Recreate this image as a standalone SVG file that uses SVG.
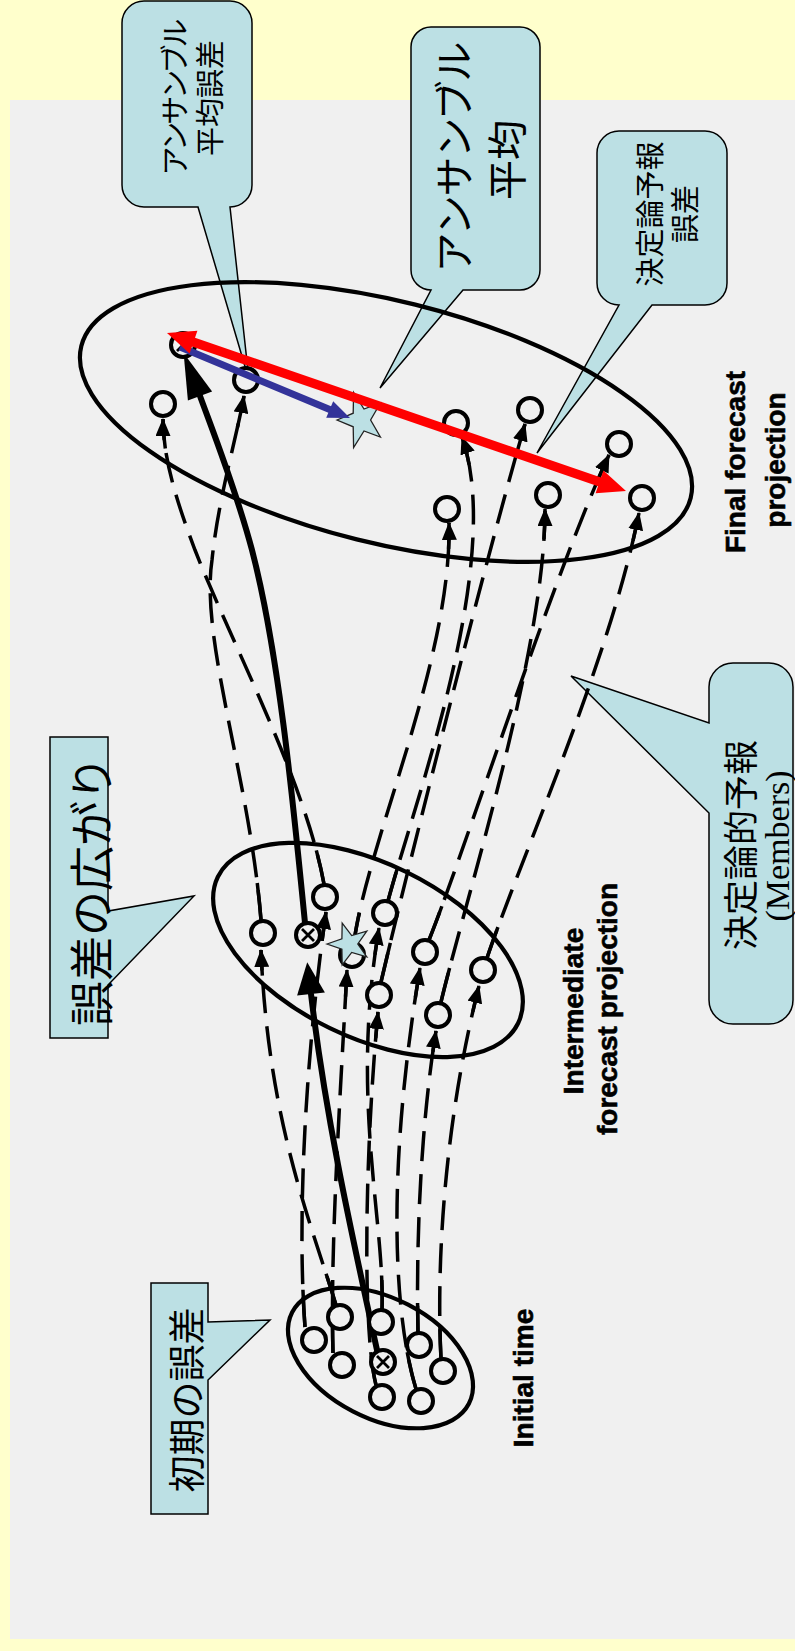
<svg xmlns="http://www.w3.org/2000/svg" width="795" height="1651" viewBox="0 0 795 1651">
<style>
.co{fill:#BCE0E4;stroke:#000;stroke-width:1.5;stroke-linejoin:miter}
.jp{font-family:"Noto Sans CJK JP","Noto Sans CJK SC",sans-serif;fill:#000;text-anchor:middle;dominant-baseline:central}
.en{font-family:"Liberation Sans",Arial,sans-serif;font-weight:bold;font-size:28px;fill:#000;stroke:#000;stroke-width:0.6;text-anchor:middle}
.el{fill:none;stroke:#000;stroke-width:4.2}
.dsh{fill:none;stroke:#000;stroke-width:3.5;stroke-dasharray:30 13}
.s1{fill:none;stroke:#000;stroke-width:3.5;stroke-dasharray:9 84 7}
.s2{fill:none;stroke:#000;stroke-width:3.5;stroke-dasharray:7 87 6}
.thick{fill:none;stroke:#000;stroke-width:6;stroke-linecap:round}
.nd{fill:#F0F0F0;stroke:#000;stroke-width:4}
.x{stroke:#000;stroke-width:2.8}
.star{fill:#BCE0E4;stroke:#222;stroke-width:1.3;stroke-linejoin:miter}
</style>
<defs>
<marker id="ah" viewBox="0 0 18 15" refX="17" refY="7.5" markerWidth="18" markerHeight="15" markerUnits="userSpaceOnUse" orient="auto"><path d="M0,0 L18,7.5 L0,15 Z" fill="#000"/></marker>
</defs>
<rect x="0" y="0" width="795" height="1651" fill="#FFFFCC"/>
<rect x="10" y="100" width="785" height="1539" fill="#F0F0F0"/>

<g id="callout-ens-mean-error">
<path class="co" d="M144,1 H230 A22 22 0 0 1 252,23 V185 A22 22 0 0 1 230,207 L249,380 L198,207 H144 A22 22 0 0 1 122,185 V23 A22 22 0 0 1 144,1 Z"/>
<text class="jp" font-size="29" transform="translate(173,97) rotate(-90)" textLength="157" lengthAdjust="spacing">アンサンブル</text>
<text class="jp" font-size="29" transform="translate(208,98) rotate(-90)">平均誤差</text>
</g>
<g id="callout-ens-mean">
<path class="co" d="M431,27 H520 A20 20 0 0 1 540,47 V270 A20 20 0 0 1 520,290 H463 L380,388 L431,290 A20 20 0 0 1 411,270 V47 A20 20 0 0 1 431,27 Z"/>
<text class="jp" font-size="40" transform="translate(452,157) rotate(-90)" textLength="231" lengthAdjust="spacing">アンサンブル</text>
<text class="jp" font-size="40" transform="translate(505,160) rotate(-90)">平均</text>
</g>
<g id="callout-det-error">
<path class="co" d="M619,131 H705 A22 22 0 0 1 727,153 V283 A22 22 0 0 1 705,305 H652 L537,453 L619,305 A22 22 0 0 1 597,283 V153 A22 22 0 0 1 619,131 Z"/>
<text class="jp" font-size="29" transform="translate(648,214) rotate(-90)">決定論予報</text>
<text class="jp" font-size="29" transform="translate(683,214) rotate(-90)">誤差</text>
</g>
<g id="callout-members">
<path class="co" d="M733,663 H769 A24 24 0 0 1 793,687 V1000 A24 24 0 0 1 769,1024 H733 A24 24 0 0 1 709,1000 V813 L571,676 L709,723 V687 A24 24 0 0 1 733,663 Z"/>
<text class="jp" font-size="35" transform="translate(738,845) rotate(-90)">決定論的予報</text>
<text font-family="'Liberation Serif','Times New Roman',serif" font-size="34" text-anchor="middle" transform="translate(789,846) rotate(-90)">(Members)</text>
</g>
<g id="callout-spread">
<path class="co" d="M50,737 H108 V911 L194,896 L108,985 V1038 H50 Z"/>
<text class="jp" font-size="45" transform="translate(89,891) rotate(-90)">誤差の広がり</text>
</g>
<g id="callout-initial-error">
<path class="co" d="M151,1283 H208 V1322 L270,1320 L208,1380 V1514 H151 Z"/>
<text class="jp" font-size="37" transform="translate(185,1400) rotate(-90)">初期の誤差</text>
</g>

<g id="final-projection">
<ellipse class="el" cx="386" cy="422" rx="314" ry="121" transform="rotate(14 386 422)"/>
<text class="en" transform="translate(745,462) rotate(-90)">Final forecast</text>
<text class="en" transform="translate(785,460) rotate(-90)">projection</text>
</g>
<g id="intermediate-projection">
<ellipse class="el" cx="368" cy="950" rx="167" ry="87" transform="rotate(26 368 950)"/>
<text class="en" transform="translate(583,1011) rotate(-90)">Intermediate</text>
<text class="en" transform="translate(617,1009) rotate(-90)">forecast projection</text>
</g>
<g id="initial-time">
<ellipse class="el" cx="380.5" cy="1358" rx="99.5" ry="60" transform="rotate(27.4 380.5 1358)"/>
<text class="en" transform="translate(533,1378) rotate(-90)">Initial time</text>
</g>

<g id="connectors">
<path class="dsh" marker-end="url(#ah)" d="M336,1305 C310,1220 268,1120 261,950"/>
<path class="s1" pathLength="100" d="M336,1305 C310,1220 268,1120 261,950"/>
<path class="dsh" marker-end="url(#ah)" d="M305,1327 C297,1220 305,1060 326,912"/>
<path class="s1" pathLength="100" d="M305,1327 C297,1220 305,1060 326,912"/>
<path class="dsh" marker-end="url(#ah)" d="M333,1353 C330,1250 340,1100 347,970"/>
<path class="s1" pathLength="100" d="M333,1353 C330,1250 340,1100 347,970"/>
<path class="dsh" marker-end="url(#ah)" d="M382,1310 C385,1220 350,1100 379,928"/>
<path class="s1" pathLength="100" d="M382,1310 C385,1220 350,1100 379,928"/>
<path class="dsh" marker-end="url(#ah)" d="M376,1385 C362,1330 365,1150 378,1012"/>
<path class="s1" pathLength="100" d="M376,1385 C362,1330 365,1150 378,1012"/>
<path class="dsh" marker-end="url(#ah)" d="M416,1389 C395,1320 385,1180 420,968"/>
<path class="s1" pathLength="100" d="M416,1389 C395,1320 385,1180 420,968"/>
<path class="dsh" marker-end="url(#ah)" d="M418,1333 C416,1250 420,1130 436,1031"/>
<path class="s1" pathLength="100" d="M418,1333 C416,1250 420,1130 436,1031"/>
<path class="dsh" marker-end="url(#ah)" d="M441,1359 C436,1260 445,1120 479,986"/>
<path class="s1" pathLength="100" d="M441,1359 C436,1260 445,1120 479,986"/>

<path class="dsh" marker-end="url(#ah)" d="M261,920 C250,780 200,640 212,560 C218,500 236,440 244,396"/>
<path class="s2" pathLength="100" d="M261,920 C250,780 200,640 212,560 C218,500 236,440 244,396"/>
<path class="dsh" marker-end="url(#ah)" d="M324,884 C305,780 230,640 195,550 C178,505 163,460 163,419"/>
<path class="s2" pathLength="100" d="M324,884 C305,780 230,640 195,550 C178,505 163,460 163,419"/>
<path class="dsh" marker-end="url(#ah)" d="M354,942 C368,840 452,660 449,523"/>
<path class="s2" pathLength="100" d="M354,942 C368,840 452,660 449,523"/>
<path class="dsh" marker-end="url(#ah)" d="M388,901 C415,800 505,560 462,437"/>
<path class="s2" pathLength="100" d="M388,901 C415,800 505,560 462,437"/>
<path class="dsh" marker-end="url(#ah)" d="M381,982 C400,900 480,580 525,424"/>
<path class="s2" pathLength="100" d="M381,982 C400,900 480,580 525,424"/>
<path class="dsh" marker-end="url(#ah)" d="M441,1002 C468,890 545,650 545,509"/>
<path class="s2" pathLength="100" d="M441,1002 C468,890 545,650 545,509"/>
<path class="dsh" marker-end="url(#ah)" d="M429,940 C465,850 555,570 609,455"/>
<path class="s2" pathLength="100" d="M429,940 C465,850 555,570 609,455"/>
<path class="dsh" marker-end="url(#ah)" d="M487,958 C520,860 610,660 639,513"/>
<path class="s2" pathLength="100" d="M487,958 C520,860 610,660 639,513"/>

<path class="thick" d="M377,1350 C352,1235 326,1120 311,994"/>
<polygon points="307.2,962.2 324.9,992.4 297.1,995.6" fill="#000"/>
<path class="thick" d="M305,923 C292,790 278,650 252,550 C236,490 215,437 200,396"/>
<polygon points="183.6,353 212.1,391.4 187.9,400.6" fill="#000"/>
</g>

<g id="initial-members">
<circle class="nd" cx="340" cy="1317" r="12"/>
<circle class="nd" cx="314" cy="1340" r="12"/>
<circle class="nd" cx="381" cy="1322" r="12"/>
<circle class="nd" cx="342" cy="1365" r="12"/>
<circle class="nd" cx="419" cy="1345" r="12"/>
<circle class="nd" cx="443" cy="1371" r="12"/>
<circle class="nd" cx="382" cy="1397" r="12"/>
<circle class="nd" cx="421" cy="1401" r="12"/>
<circle class="nd" cx="383" cy="1362" r="12"/>
<path class="x" d="M377,1356 L389,1368 M389,1356 L377,1368"/>
</g>
<g id="intermediate-members">
<circle class="nd" cx="263" cy="933" r="12"/>
<circle class="nd" cx="325" cy="897" r="12"/>
<circle class="nd" cx="385" cy="913" r="12"/>
<circle class="nd" cx="352" cy="955" r="12"/>
<circle class="nd" cx="425" cy="952" r="12"/>
<circle class="nd" cx="379" cy="995" r="12"/>
<circle class="nd" cx="483" cy="970" r="12"/>
<circle class="nd" cx="438" cy="1015" r="12"/>
<circle class="nd" cx="308" cy="935" r="12"/>
<path class="x" d="M302,929 L314,941 M314,929 L302,941"/>
</g>
<g id="final-members">
<circle class="nd" cx="246" cy="380" r="12"/>
<circle class="nd" cx="163" cy="404" r="12"/>
<circle class="nd" cx="456" cy="423" r="12"/>
<circle class="nd" cx="530" cy="410" r="12"/>
<circle class="nd" cx="619" cy="444" r="12"/>
<circle class="nd" cx="447" cy="509" r="12"/>
<circle class="nd" cx="548" cy="495" r="12"/>
<circle class="nd" cx="642" cy="498" r="12"/>
<circle class="nd" cx="183" cy="345" r="12"/>
<path class="x" d="M177,339 L189,351 M189,339 L177,351"/>
</g>

<g id="intermediate-mean">
<polygon class="star" points="327,944 341.9,938.8 342.2,923.1 351.7,935.6 366.8,931.1 357.8,944 366.8,956.9 351.7,952.4 342.2,964.9 341.9,949.2"/>
</g>
<g id="final-mean">
<polygon class="star" points="337,420 353.2,413.2 353.6,392.4 364,409 380.4,403 370.6,420 380.4,437 364,431 353.6,447.6 353.2,426.8"/>
</g>
<g id="mean-error-arrow">
<polygon fill="#333399" points="178.65,350.2 328.35,412.7 326.2,417.8 350,418 333.2,401.2 331.05,406.3 181.35,343.8"/>
</g>
<g id="det-error-arrow">
<polygon fill="#FF0000" points="167,333 189.6,353.4 192,346.4 598,486.2 595.6,493.2 626,491 603.4,470.6 601,477.6 195,337.8 197.4,330.7"/>
</g>
</svg>
